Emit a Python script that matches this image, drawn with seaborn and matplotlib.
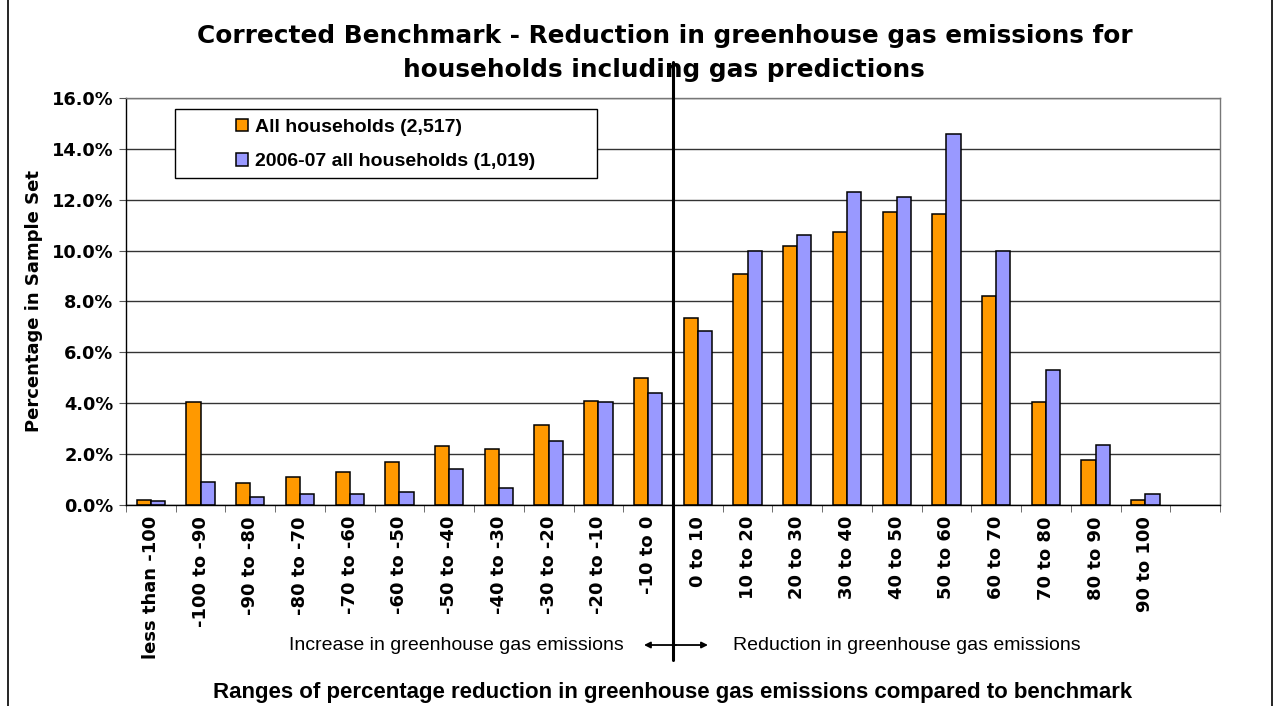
# Libraries
import numpy as np
import pandas as pd
import matplotlib
matplotlib.use("Agg")
import matplotlib.pyplot as plt
import seaborn as sb
from matplotlib.ticker import FuncFormatter, FixedLocator
from matplotlib.patches import Rectangle

# Data
ranges = ["less than -100", "-100 to -90", "-90 to -80", "-80 to -70",
          "-70 to -60", "-60 to -50", "-50 to -40", "-40 to -30",
          "-30 to -20", "-20 to -10", "-10 to 0", "0 to 10", "10 to 20",
          "20 to 30", "30 to 40", "40 to 50", "50 to 60", "60 to 70",
          "70 to 80", "80 to 90", "90 to 100"]
all_households = [0.2, 4.05, 0.85, 1.1, 1.3, 1.7, 2.3, 2.2, 3.15, 4.1, 5.0,
                  7.35, 9.1, 10.2, 10.75, 11.5, 11.45, 8.2, 4.05, 1.75, 0.2]
households_0607 = [0.15, 0.9, 0.3, 0.45, 0.45, 0.5, 1.4, 0.65, 2.5, 4.05, 4.4,
                   6.85, 10.0, 10.6, 12.3, 12.1, 14.6, 10.0, 5.3, 2.35, 0.45]
series_names = ["All households (2,517)", "2006-07 all households (1,019)"]
colors = ["#FF9900", "#9999FF"]

df = pd.DataFrame({"Range": ranges * 2,
                   "Percent": all_households + households_0607,
                   "Series": [series_names[0]] * len(ranges) +
                             [series_names[1]] * len(ranges)})

# Plot
sb.set_style("white")
plt.rcParams["font.family"] = ["Liberation Sans", "DejaVu Sans"]
plt.rcParams["text.color"] = "black"
plt.rcParams["axes.labelcolor"] = "black"
plt.rcParams["xtick.color"] = "black"
plt.rcParams["ytick.color"] = "black"
wide = ["DejaVu Sans"]  # stretched look of the original labels

fig = plt.figure(figsize=(12.8, 7.06), dpi=100)
ax = fig.add_axes([0.0984, 0.2847, 0.8547, 0.5765])

sb.barplot(data=df, x="Range", y="Percent", hue="Series", order=ranges,
           hue_order=series_names, palette=colors, width=0.57,
           edgecolor="black", linewidth=1.1, saturation=1, ax=ax)

ax.set_xlim(-0.5, len(ranges) + 0.5)
ax.set_ylim(0, 16)
ax.set_yticks(np.arange(0, 16.1, 2))
ax.yaxis.set_major_formatter(FuncFormatter(lambda v, p: "{:.1f}%".format(v)))
ax.yaxis.grid(True, color="#333333", linewidth=1.0)
ax.set_axisbelow(True)

# Category labels centred, tick marks on category boundaries
ax.tick_params(axis="x", which="major", length=0, pad=8)
ax.xaxis.set_minor_locator(FixedLocator(np.arange(-0.5, len(ranges) + 1, 1)))
ax.tick_params(axis="x", which="minor", length=5, direction="out",
               color="#555555", bottom=True)
ax.tick_params(axis="y", which="major", length=5, direction="out",
               color="#555555", left=True, pad=4)
plt.setp(ax.get_xticklabels(), rotation=90, fontsize=13, fontweight="bold",
         va="top", ha="center", family=wide)
plt.setp(ax.get_yticklabels(), fontsize=12.8, fontweight="bold", family=wide)

for side in ["left", "bottom"]:
    ax.spines[side].set_color("black")
    ax.spines[side].set_linewidth(1.0)
for side in ["top", "right"]:
    ax.spines[side].set_visible(True)
    ax.spines[side].set_color("#777777")
    ax.spines[side].set_linewidth(1.0)

ax.set_xlabel("Ranges of percentage reduction in greenhouse gas emissions compared to benchmark",
              fontsize=16, fontweight="bold")
ax.xaxis.set_label_coords(0.5, -0.435)
ax.set_ylabel("Percentage in Sample Set", fontsize=13, fontweight="bold",
              family=wide)
ax.yaxis.set_label_coords(-0.076, 0.5)

# Legend: box drawn separately so the entries sit to the right as in Excel
ax.add_patch(Rectangle((0.0448, 0.803), 0.3857, 0.170, transform=ax.transAxes,
                       facecolor="white", edgecolor="black", linewidth=1.0,
                       zorder=4, clip_on=False))
leg = ax.legend(loc="upper left", bbox_to_anchor=(0.1005, 0.949), frameon=False,
                fontsize=14, handlelength=0.62, handleheight=0.62,
                handletextpad=0.35, borderpad=0, labelspacing=0.88,
                borderaxespad=0)
leg.set_zorder(5)
for t in leg.get_texts():
    t.set_fontweight("bold")

# Divider between increase and reduction
ax.axvline(10.5, ymin=-0.381, ymax=1.088, color="black", linewidth=2.2,
           clip_on=False, zorder=5)
ax.text(0.302, -0.344, "Increase in greenhouse gas emissions", transform=ax.transAxes,
        ha="center", va="center", fontsize=14)
ax.text(0.714, -0.344, "Reduction in greenhouse gas emissions", transform=ax.transAxes,
        ha="center", va="center", fontsize=14)
ax.annotate("", xy=(0.4735, -0.344), xytext=(0.5027, -0.344), xycoords="axes fraction",
            arrowprops=dict(arrowstyle="-|>", color="black", lw=1.3,
                            mutation_scale=9, shrinkA=0, shrinkB=0))
ax.annotate("", xy=(0.532, -0.344), xytext=(0.5027, -0.344), xycoords="axes fraction",
            arrowprops=dict(arrowstyle="-|>", color="black", lw=1.3,
                            mutation_scale=9, shrinkA=0, shrinkB=0))

# Title
fig.text(0.519, 0.925, "Corrected Benchmark - Reduction in greenhouse gas emissions for\n"
         "households including gas predictions", ha="center", va="center",
         fontsize=17.8, fontweight="bold", linespacing=1.5, family=wide)

# Outer frame
fig.patches.append(Rectangle((0.006, -0.01), 0.988, 1.02, transform=fig.transFigure,
                             fill=False, edgecolor="black", linewidth=1.2))

fig.savefig("out.png", dpi=100)
